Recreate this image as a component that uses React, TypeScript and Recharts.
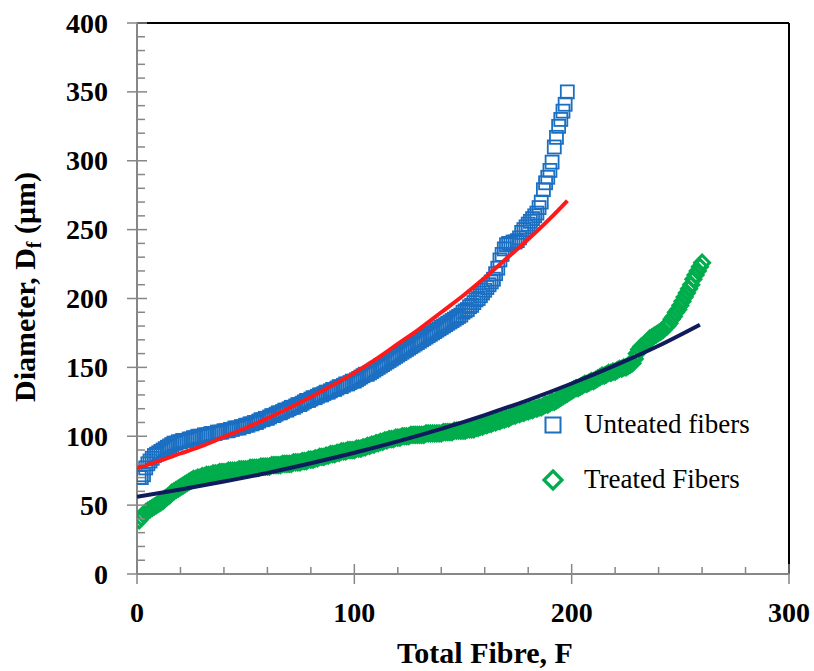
import React from "react";
import {
  ScatterChart,
  Scatter,
  XAxis,
  YAxis,
  ReferenceLine,
  Legend,
  Label,
} from "recharts";

// ---- Data ----
const seriesNames = ["Unteated fibers", "Treated Fibers"];

// Untreated fibre diameters (µm), fibre rank 1..198
const untreatedDiameter = [
  70, 70, 72, 77, 80, 82, 84, 86, 87, 88,
  89, 90, 91, 92, 93, 94, 95, 95, 96, 96,
  97, 97, 97, 98, 98, 99, 99, 100, 100, 100,
  101, 101, 101, 102, 102, 102, 103, 103, 103, 104,
  104, 104, 105, 105, 106, 106, 106, 107, 107, 108,
  108, 109, 109, 110, 110, 111, 112, 112, 113, 113,
  114, 115, 115, 116, 117, 117, 118, 119, 119, 120,
  121, 121, 122, 123, 123, 124, 125, 126, 126, 127,
  128, 128, 129, 130, 130, 131, 132, 132, 133, 134,
  134, 135, 136, 136, 137, 138, 138, 139, 140, 140,
  141, 142, 143, 144, 145, 145, 146, 147, 148, 149,
  150, 151, 152, 153, 154, 155, 156, 157, 158, 159,
  160, 161, 162, 163, 164, 165, 166, 167, 168, 169,
  170, 171, 172, 173, 174, 175, 176, 177, 178, 179,
  180, 181, 182, 183, 184, 185, 186, 187, 188, 190,
  191, 192, 194, 195, 197, 199, 200, 202, 204, 206,
  208, 210, 212, 214, 218, 222, 228, 232, 236, 239,
  240, 240, 241, 241, 242, 244, 248, 250, 252, 254,
  256, 258, 260, 262, 266, 270, 279, 284, 288, 293,
  299, 310, 317, 325, 330, 336, 341, 350,
];

// Treated fibre diameters (µm), fibre rank 1..260
const treatedDiameter = [
  39, 41, 43, 45, 46, 47, 48, 49, 50, 51,
  52, 53, 55, 56, 57, 59, 60, 61, 62, 63,
  64, 65, 66, 67, 68, 69, 69, 70, 70, 71,
  71, 72, 72, 72, 73, 73, 73, 74, 74, 74,
  74, 75, 75, 75, 75, 75, 76, 76, 76, 76,
  76, 77, 77, 77, 77, 77, 78, 78, 78, 78,
  78, 79, 79, 79, 79, 79, 80, 80, 80, 80,
  80, 81, 81, 81, 81, 82, 82, 82, 83, 83,
  83, 84, 84, 85, 85, 85, 86, 86, 87, 87,
  87, 88, 88, 89, 89, 89, 90, 90, 90, 90,
  91, 91, 91, 92, 92, 93, 93, 94, 94, 95,
  95, 96, 96, 97, 97, 98, 98, 98, 99, 99,
  99, 100, 100, 100, 100, 101, 101, 101, 101, 101,
  101, 101, 102, 102, 102, 102, 102, 102, 102, 102,
  103, 103, 103, 103, 103, 104, 104, 104, 104, 104,
  104, 105, 105, 105, 105, 106, 106, 107, 107, 108,
  108, 109, 109, 110, 110, 111, 111, 112, 112, 113,
  113, 114, 115, 115, 116, 116, 117, 117, 118, 118,
  119, 119, 120, 120, 121, 121, 122, 123, 123, 124,
  125, 125, 126, 127, 128, 129, 130, 131, 132, 133,
  134, 135, 135, 136, 137, 138, 138, 139, 140, 140,
  141, 142, 143, 144, 144, 145, 146, 146, 147, 147,
  148, 149, 149, 150, 150, 151, 152, 153, 156, 160,
  163, 165, 166, 167, 169, 171, 172, 173, 174, 175,
  176, 177, 179, 180, 182, 185, 187, 190, 192, 195,
  198, 201, 204, 207, 210, 214, 217, 220, 223, 226,
];

// Trend lines
const untreatedFitX = [0, 10, 20, 30, 40, 50, 60, 70, 80, 90, 100, 110, 120, 130, 140, 150, 160, 170, 180, 190, 198];
const untreatedFitY = [77, 82, 87.5, 93, 99.5, 106, 113, 120.5, 128.5, 137, 146, 156, 167, 178, 190, 202, 215, 229, 243, 258, 271];
const treatedFitX = [0, 20, 40, 60, 80, 100, 120, 140, 160, 180, 200, 220, 240, 259];
const treatedFitY = [56, 61.3, 67.1, 73.4, 80.4, 88, 96.3, 105.4, 115.4, 126.3, 138.3, 151.4, 165.7, 181];

const xTicks = [0, 20, 40, 60, 80, 100, 120, 140, 160, 180, 200, 220, 240, 260, 280, 300];
const yTicks = [
  0, 10, 20, 30, 40, 50, 60, 70, 80, 90, 100, 110, 120, 130, 140, 150, 160, 170, 180, 190, 200,
  210, 220, 230, 240, 250, 260, 270, 280, 290, 300, 310, 320, 330, 340, 350, 360, 370, 380, 390, 400,
];

// ---- Styling ----
const FONT = '"Liberation Serif", "Times New Roman", serif';
const BLUE = "#1b6fc2";
const GREEN = "#00ad4c";
const RED = "#ff1a1a";
const NAVY = "#0f1b5c";
const AXIS = "#878787";

const untreatedData = untreatedDiameter.map((d, i) => ({ x: i + 1, y: d }));
const treatedData = treatedDiameter.map((d, i) => ({ x: i + 1, y: d }));
const untreatedFit = untreatedFitX.map((x, i) => ({ x, y: untreatedFitY[i] }));
const treatedFit = treatedFitX.map((x, i) => ({ x, y: treatedFitY[i] }));

const SquareShape = (props: any) => {
  const { cx, cy } = props;
  if (cx == null || cy == null) return <g />;
  return (
    <rect x={cx - 6.5} y={cy - 6.5} width={13} height={13} fill="none" stroke={BLUE} strokeWidth={1.8} />
  );
};

const DiamondShape = (props: any) => {
  const { cx, cy } = props;
  if (cx == null || cy == null) return <g />;
  const r = 7.5;
  return (
    <polygon
      points={`${cx},${cy - r} ${cx + r},${cy} ${cx},${cy + r} ${cx - r},${cy}`}
      fill="none"
      stroke={GREEN}
      strokeWidth={3}
    />
  );
};

const NoShape = () => <g />;

const YTick = (props: any) => {
  const { x, y, payload } = props;
  const v = payload.value;
  const major = v % 50 === 0;
  return (
    <g>
      {major ? (
        <line x1={x - 10} x2={x + 10} y1={y} y2={y} stroke={AXIS} strokeWidth={1.5} />
      ) : (
        <line x1={x} x2={x + 8} y1={y} y2={y} stroke={AXIS} strokeWidth={1.5} />
      )}
      {major && (
        <text x={x - 29} y={y + 9.5} textAnchor="end" fontFamily={FONT} fontWeight="bold" fontSize={28} fill="#000">
          {v}
        </text>
      )}
    </g>
  );
};

const XTick = (props: any) => {
  const { x, y, payload } = props;
  const v = payload.value;
  const major = v % 100 === 0;
  return (
    <g>
      {major ? (
        <line x1={x} x2={x} y1={y - 10} y2={y + 10} stroke={AXIS} strokeWidth={1.5} />
      ) : (
        <line x1={x} x2={x} y1={y - 7} y2={y} stroke={AXIS} strokeWidth={1.5} />
      )}
      {major && (
        <text x={x} y={y + 47.5} textAnchor="middle" fontFamily={FONT} fontWeight="bold" fontSize={28} fill="#000">
          {v}
        </text>
      )}
    </g>
  );
};

const YTitle = () => (
  <text
    x={35}
    y={287}
    transform="rotate(-90, 35, 287)"
    textAnchor="middle"
    fontFamily={FONT}
    fontWeight="bold"
    fontSize={30}
    fill="#000"
  >
    Diameter, D
    <tspan fontSize={20} dy={6}>f</tspan>
    <tspan dy={-6}> (μm)</tspan>
  </text>
);

const XTitle = () => (
  <text x={485} y={663} textAnchor="middle" fontFamily={FONT} fontWeight="bold" fontSize={30} fill="#000">
    Total Fibre, F
  </text>
);

const LegendContent = () => (
  <div style={{ fontFamily: FONT, fontSize: 27, color: "#000" }}>
    <div style={{ display: "flex", alignItems: "center", height: 55 }}>
      <svg width={22} height={22} style={{ display: "block" }}>
        <rect x={3.5} y={3.5} width={15} height={15} fill="none" stroke={BLUE} strokeWidth={2} />
      </svg>
      <span style={{ marginLeft: 20, lineHeight: "55px", whiteSpace: "nowrap" }}>{seriesNames[0]}</span>
    </div>
    <div style={{ display: "flex", alignItems: "center", height: 55 }}>
      <svg width={22} height={22} style={{ display: "block" }}>
        <polygon points="11,2 20,11 11,20 2,11" fill="none" stroke={GREEN} strokeWidth={3.2} />
      </svg>
      <span style={{ marginLeft: 20, lineHeight: "55px", whiteSpace: "nowrap" }}>{seriesNames[1]}</span>
    </div>
  </div>
);

export default function App() {
  return (
    <div style={{ position: "absolute", left: 0, top: 0, width: 814, height: 671 }}>
      <ScatterChart width={814} height={671} margin={{ top: 23, right: 25, bottom: 37, left: 37 }}>
        <XAxis
          type="number"
          dataKey="x"
          domain={[0, 300]}
          ticks={xTicks}
          interval={0}
          height={60}
          tickSize={0}
          tickMargin={0}
          tickLine={false}
          axisLine={{ stroke: AXIS, strokeWidth: 2 }}
          tick={<XTick />}
          label={<Label content={<XTitle />} />}
          allowDataOverflow
        />
        <YAxis
          type="number"
          dataKey="y"
          domain={[0, 400]}
          ticks={yTicks}
          interval={0}
          width={100}
          tickSize={0}
          tickMargin={0}
          tickLine={false}
          axisLine={{ stroke: AXIS, strokeWidth: 2 }}
          tick={<YTick />}
          label={<Label content={<YTitle />} />}
          allowDataOverflow
        />
        <ReferenceLine y={400} stroke="#000" strokeWidth={2} />
        <ReferenceLine x={300} stroke="#000" strokeWidth={2} />
        <Scatter
          name={seriesNames[0]}
          data={untreatedData}
          shape={<SquareShape />}
          isAnimationActive={false}
        />
        <Scatter
          name={seriesNames[1]}
          data={treatedData}
          shape={<DiamondShape />}
          isAnimationActive={false}
        />
        <Scatter
          name="Untreated fit"
          data={untreatedFit}
          line={{ stroke: RED, strokeWidth: 4 }}
          lineJointType="monotoneX"
          shape={<NoShape />}
          legendType="none"
          isAnimationActive={false}
        />
        <Scatter
          name="Treated fit"
          data={treatedFit}
          line={{ stroke: NAVY, strokeWidth: 4 }}
          lineJointType="monotoneX"
          shape={<NoShape />}
          legendType="none"
          isAnimationActive={false}
        />
        <Legend
          layout="vertical"
          align="center"
          verticalAlign="middle"
          content={<LegendContent />}
          wrapperStyle={{ left: 542, top: 397, width: 260, height: 110 }}
        />
      </ScatterChart>
    </div>
  );
}
